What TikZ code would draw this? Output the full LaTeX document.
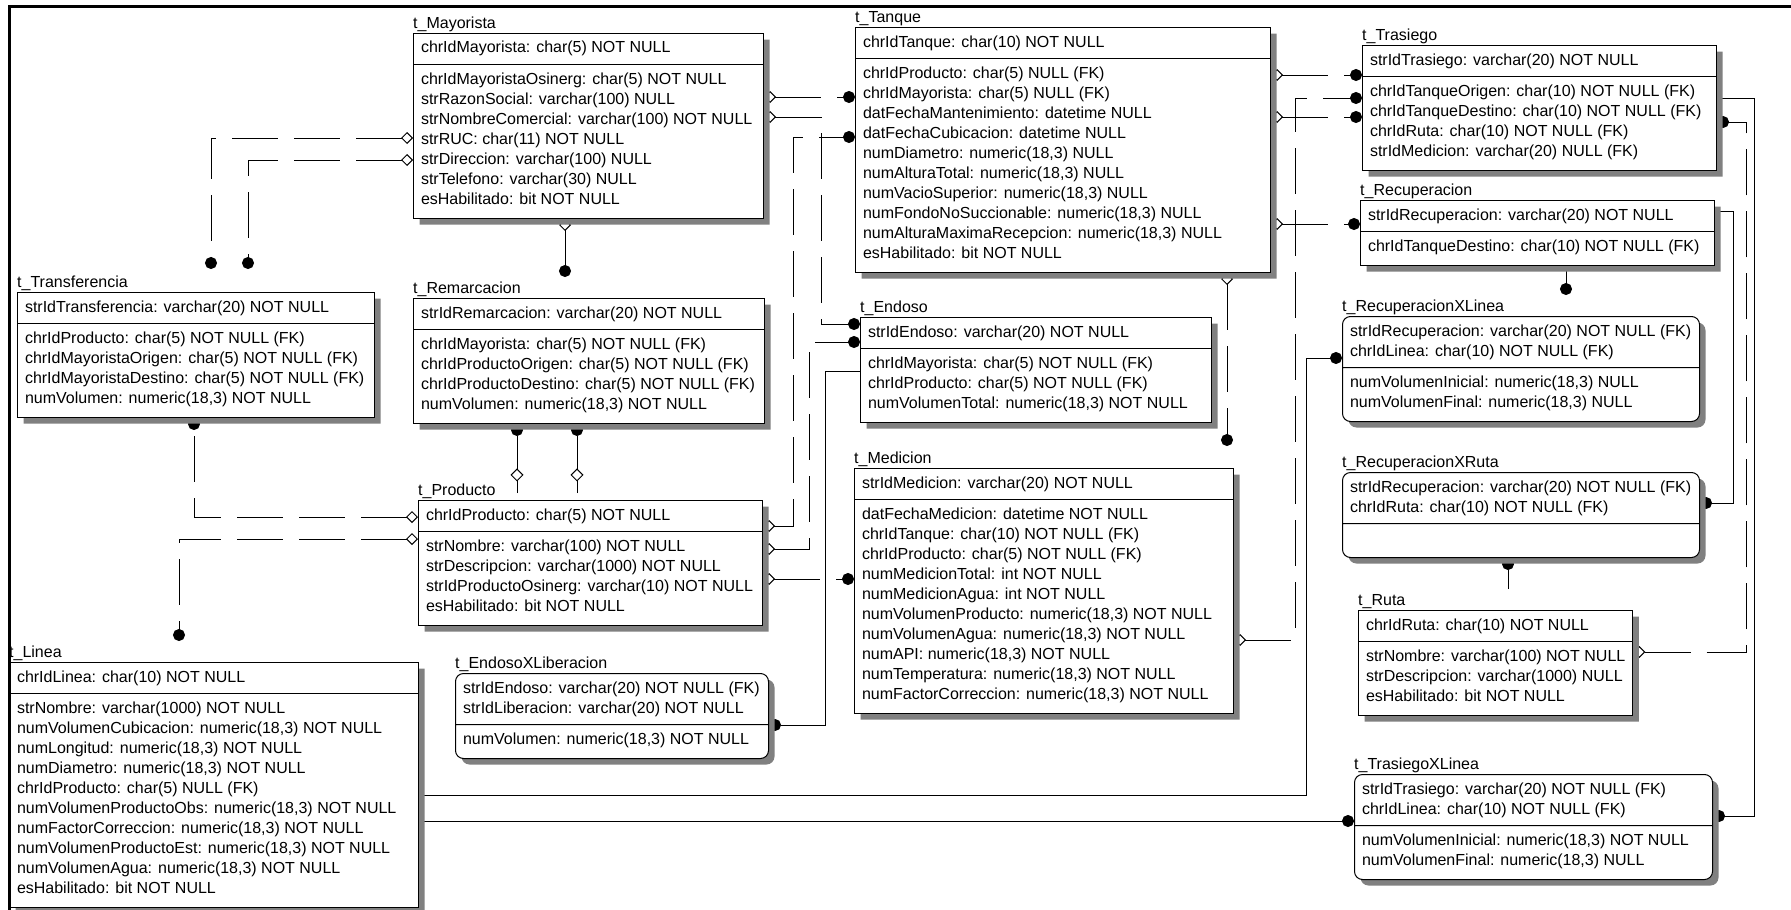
\documentclass[tikz,border=0pt]{standalone}
\usepackage{fontspec}
\setmainfont{Liberation Sans}
\usetikzlibrary{arrows.meta,shapes.multipart,shapes.geometric,shadows,backgrounds}
\newcommand{\campo}{\fontsize{16}{20}\selectfont}
\newcommand{\clave}[1]{\begin{tabular}{@{}l@{}}#1\end{tabular}}
\newcommand{\resto}[1]{\begin{tabular}{@{}l@{}}#1\\[3pt]\end{tabular}}

\begin{document}
\begin{tikzpicture}[
  x=1pt, y=1pt, every node/.style={font=\campo},
  tabla/.style={rectangle split, rectangle split parts=2, draw, fill=white,
                line width=1pt, inner xsep=7.5pt, inner ysep=5pt,
                rectangle split part align=left, anchor=north west,
                drop shadow={shadow xshift=6pt, shadow yshift=-6pt,
                             fill=black!50, opacity=1}},
  asoc/.style={tabla, rounded corners=8pt},
  titulo/.style={anchor=base west, inner sep=0pt},
  rel/.style={line width=1pt},
  opc/.style={rel, dash pattern=on 46pt off 16pt},
  ri/.style={-{Circle[length=12pt]}},
  rn/.style={{Diamond[open,length=12pt,width=12pt]}-{Circle[length=12pt]}},
  rombo/.style={diamond, draw, fill=white, line width=1pt, inner sep=0pt,
                minimum width=12pt, minimum height=12pt},
]
\useasboundingbox (0,0) rectangle (1791,-910);

\node[tabla, minimum width=350pt] (mayorista) at (413,-33)
  {\clave{chrIdMayorista: char(5) NOT NULL}\nodepart{two}\resto{chrIdMayoristaOsinerg: char(5) NOT NULL\\strRazonSocial: varchar(100) NULL\\strNombreComercial: varchar(100) NOT NULL\\strRUC: char(11) NOT NULL\\strDireccion: varchar(100) NULL\\strTelefono: varchar(30) NULL\\esHabilitado: bit NOT NULL}};
\node[tabla, minimum width=415pt] (tanque) at (855,-27)
  {\clave{chrIdTanque: char(10) NOT NULL}\nodepart{two}\resto{chrIdProducto: char(5) NULL (FK)\\chrIdMayorista: char(5) NULL (FK)\\datFechaMantenimiento: datetime NULL\\datFechaCubicacion: datetime NULL\\numDiametro: numeric(18,3) NULL\\numAlturaTotal: numeric(18,3) NULL\\numVacioSuperior: numeric(18,3) NULL\\numFondoNoSuccionable: numeric(18,3) NULL\\numAlturaMaximaRecepcion: numeric(18,3) NULL\\esHabilitado: bit NOT NULL}};
\node[tabla, minimum width=354pt] (trasiego) at (1362,-45)
  {\clave{strIdTrasiego: varchar(20) NOT NULL}\nodepart{two}\resto{chrIdTanqueOrigen: char(10) NOT NULL (FK)\\chrIdTanqueDestino: char(10) NOT NULL (FK)\\chrIdRuta: char(10) NOT NULL (FK)\\strIdMedicion: varchar(20) NULL (FK)}};
\node[tabla, minimum width=354pt] (recuperacion) at (1360,-200)
  {\clave{strIdRecuperacion: varchar(20) NOT NULL}\nodepart{two}\resto{chrIdTanqueDestino: char(10) NOT NULL (FK)}};
\node[asoc, minimum width=357pt] (rxlinea) at (1342,-316)
  {\clave{strIdRecuperacion: varchar(20) NOT NULL (FK)\\chrIdLinea: char(10) NOT NULL (FK)}\nodepart{two}\resto{numVolumenInicial: numeric(18,3) NULL\\numVolumenFinal: numeric(18,3) NULL}};
\node[asoc, minimum width=357pt] (rxruta) at (1342,-472)
  {\clave{strIdRecuperacion: varchar(20) NOT NULL (FK)\\chrIdRuta: char(10) NOT NULL (FK)}\nodepart{two}\resto{}};
\node[tabla, minimum width=273pt] (ruta) at (1358,-610)
  {\clave{chrIdRuta: char(10) NOT NULL}\nodepart{two}\resto{strNombre: varchar(100) NOT NULL\\strDescripcion: varchar(1000) NULL\\esHabilitado: bit NOT NULL}};
\node[asoc, minimum width=358pt] (txlinea) at (1354,-774)
  {\clave{strIdTrasiego: varchar(20) NOT NULL (FK)\\chrIdLinea: char(10) NOT NULL (FK)}\nodepart{two}\resto{numVolumenInicial: numeric(18,3) NOT NULL\\numVolumenFinal: numeric(18,3) NULL}};
\node[tabla, minimum width=351pt] (endoso) at (860,-317)
  {\clave{strIdEndoso: varchar(20) NOT NULL}\nodepart{two}\resto{chrIdMayorista: char(5) NOT NULL (FK)\\chrIdProducto: char(5) NOT NULL (FK)\\numVolumenTotal: numeric(18,3) NOT NULL}};
\node[tabla, minimum width=379pt] (medicion) at (854,-468)
  {\clave{strIdMedicion: varchar(20) NOT NULL}\nodepart{two}\resto{datFechaMedicion: datetime NOT NULL\\chrIdTanque: char(10) NOT NULL (FK)\\chrIdProducto: char(5) NOT NULL (FK)\\numMedicionTotal: int NOT NULL\\numMedicionAgua: int NOT NULL\\numVolumenProducto: numeric(18,3) NOT NULL\\numVolumenAgua: numeric(18,3) NOT NULL\\numAPI: numeric(18,3) NOT NULL\\numTemperatura: numeric(18,3) NOT NULL\\numFactorCorreccion: numeric(18,3) NOT NULL}};
\node[tabla, minimum width=351pt] (remarcacion) at (413,-298)
  {\clave{strIdRemarcacion: varchar(20) NOT NULL}\nodepart{two}\resto{chrIdMayorista: char(5) NOT NULL (FK)\\chrIdProductoOrigen: char(5) NOT NULL (FK)\\chrIdProductoDestino: char(5) NOT NULL (FK)\\numVolumen: numeric(18,3) NOT NULL}};
\node[tabla, minimum width=344pt] (producto) at (418,-500)
  {\clave{chrIdProducto: char(5) NOT NULL}\nodepart{two}\resto{strNombre: varchar(100) NOT NULL\\strDescripcion: varchar(1000) NOT NULL\\strIdProductoOsinerg: varchar(10) NOT NULL\\esHabilitado: bit NOT NULL}};
\node[asoc, minimum width=313pt] (exliberacion) at (455,-673)
  {\clave{strIdEndoso: varchar(20) NOT NULL (FK)\\strIdLiberacion: varchar(20) NOT NULL}\nodepart{two}\resto{numVolumen: numeric(18,3) NOT NULL}};
\node[tabla, minimum width=357pt] (transferencia) at (17,-292)
  {\clave{strIdTransferencia: varchar(20) NOT NULL}\nodepart{two}\resto{chrIdProducto: char(5) NOT NULL (FK)\\chrIdMayoristaOrigen: char(5) NOT NULL (FK)\\chrIdMayoristaDestino: char(5) NOT NULL (FK)\\numVolumen: numeric(18,3) NOT NULL}};
\node[tabla, minimum width=409pt] (linea) at (9,-662)
  {\clave{chrIdLinea: char(10) NOT NULL}\nodepart{two}\resto{strNombre: varchar(1000) NOT NULL\\numVolumenCubicacion: numeric(18,3) NOT NULL\\numLongitud: numeric(18,3) NOT NULL\\numDiametro: numeric(18,3) NOT NULL\\chrIdProducto: char(5) NULL (FK)\\numVolumenProductoObs: numeric(18,3) NOT NULL\\numFactorCorreccion: numeric(18,3) NOT NULL\\numVolumenProductoEst: numeric(18,3) NOT NULL\\numVolumenAgua: numeric(18,3) NOT NULL\\esHabilitado: bit NOT NULL}};

\node[titulo] (mayorista-t) at ([yshift=5pt]mayorista.north west) {t\_Mayorista};
\node[titulo] (tanque-t) at ([yshift=5pt]tanque.north west) {t\_Tanque};
\node[titulo] (trasiego-t) at ([yshift=5pt]trasiego.north west) {t\_Trasiego};
\node[titulo] (recuperacion-t) at ([yshift=5pt]recuperacion.north west) {t\_Recuperacion};
\node[titulo] (rxlinea-t) at ([yshift=5pt]rxlinea.north west) {t\_RecuperacionXLinea};
\node[titulo] (rxruta-t) at ([yshift=5pt]rxruta.north west) {t\_RecuperacionXRuta};
\node[titulo] (ruta-t) at ([yshift=5pt]ruta.north west) {t\_Ruta};
\node[titulo] (txlinea-t) at ([yshift=5pt]txlinea.north west) {t\_TrasiegoXLinea};
\node[titulo] (endoso-t) at ([yshift=5pt]endoso.north west) {t\_Endoso};
\node[titulo] (medicion-t) at ([yshift=5pt]medicion.north west) {t\_Medicion};
\node[titulo] (remarcacion-t) at ([yshift=5pt]remarcacion.north west) {t\_Remarcacion};
\node[titulo] (producto-t) at ([yshift=5pt]producto.north west) {t\_Producto};
\node[titulo] (exliberacion-t) at ([yshift=5pt]exliberacion.north west) {t\_EndosoXLiberacion};
\node[titulo] (transferencia-t) at ([yshift=5pt]transferencia.north west) {t\_Transferencia};
\node[titulo] (linea-t) at ([yshift=5pt]linea.north west) {t\_Linea};

\begin{scope}[on background layer]
\draw[opc, rn, shorten >=23pt] (mayorista.west |- 0,-138) -| (transferencia.north -| 211,0);
\draw[opc, rn, shorten >=23pt] (mayorista.west |- 0,-160) -| (transferencia.north -| 248,0);
\draw[rel, rn, shorten >=21pt] (mayorista.south -| 565,0) -- (remarcacion.north -| 565,0);
\draw[opc, rn] (mayorista.east |- 0,-97) -- (tanque.west |- 0,-97);
\draw[opc, rn] (mayorista.east |- 0,-117) -| (821,-324) -- (endoso.west |- 0,-324);

\draw[opc, rn] (producto.east |- 0,-526) -| (793,-137) -- (tanque.west |- 0,-137);
\draw[opc, rn] (producto.east |- 0,-549) -| (809,-342) -- (endoso.west |- 0,-342);
\draw[opc, rn] (producto.east |- 0,-579) -- (medicion.west |- 0,-579);
\draw[opc, rn] (producto.west |- 0,-517) -| (transferencia.south -| 194,0);
\draw[opc, rn, shorten >=21pt] (producto.west |- 0,-539) -| (linea.north -| 179,0);
\draw[rel, ri, shorten <=7pt] (producto.north -| 517,0)
  -- node[rombo, pos=.33] (rombo1) {} (remarcacion.south -| 517,0);
\draw[rel, ri, shorten <=7pt] (producto.north -| 577,0)
  -- node[rombo, pos=.33] (rombo2) {} (remarcacion.south -| 577,0);

\draw[opc, rn] (tanque.east |- 0,-75) -- (trasiego.west |- 0,-75);
\draw[opc, rn] (tanque.east |- 0,-117) -- (trasiego.west |- 0,-117);
\draw[opc, rn] (tanque.east |- 0,-224) -- (recuperacion.west |- 0,-224);
\draw[opc, rn, shorten >=22pt] (tanque.south -| 1227,0) -- (medicion.north -| 1227,0);

\draw[opc, rn] (medicion.east |- 0,-640) -| (1295,-98) -- (trasiego.west |- 0,-98);
\draw[opc, rn] (ruta.east |- 0,-652) -| (1746,-122) -- (trasiego.east |- 0,-122);
\draw[rel, ri, shorten <=21pt] (ruta.north -| 1508,0) -- (rxruta.south -| 1508,0);

\draw[rel, ri, shorten >=21pt] (recuperacion.south -| 1566,0) -- (rxlinea.north -| 1566,0);
\draw[rel, ri] (recuperacion.east |- 0,-211) -| (1733,-503) -- (rxruta.east |- 0,-503);
\draw[rel, ri] (trasiego.east |- 0,-98) -| (1754,-816) -- (txlinea.east |- 0,-816);

\draw[rel, ri] (linea.east |- 0,-795) -| (1306,-358) -- (rxlinea.west |- 0,-358);
\draw[rel, ri] (linea.east |- 0,-821) -- (txlinea.west |- 0,-821);
\draw[rel, ri] (endoso.west |- 0,-371) -| (825,-725) -- (exliberacion.east |- 0,-725);
\end{scope}

\draw[line width=3pt] (9,-910) -- (9,-6) -- (1791,-6);
\end{tikzpicture}
\end{document}
